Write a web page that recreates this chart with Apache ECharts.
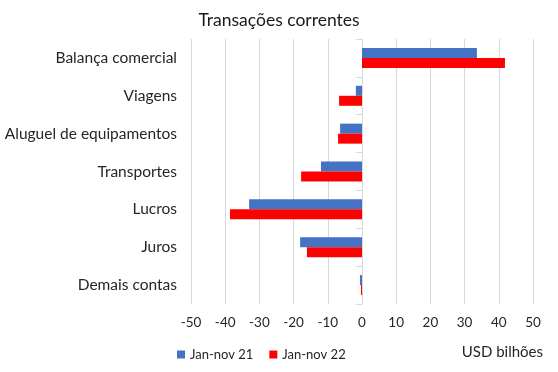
<!DOCTYPE html>
<html><head><meta charset="utf-8">
<script src="https://cdn.jsdelivr.net/npm/echarts@6/dist/echarts.min.js"></script>
<style>html,body{margin:0;padding:0;background:#fff}#c{width:558px;height:372px}</style>
</head><body><div id="c"></div>
<script>
const categories = ['Balança comercial','Viagens','Aluguel de equipamentos','Transportes','Lucros','Juros','Demais contas'];
const jan21 = [33.6, -1.8, -6.4, -12.0, -33.0, -18.1, -0.6];
const jan22 = [41.8, -6.7, -7.0, -17.8, -38.6, -16.1, -0.3];
const seriesNames = ['Jan-nov 21','Jan-nov 22'];
const xTicks = {min: -50, max: 50, interval: 10};

const F = 'Lato, "Noto Sans", sans-serif';
const chart = echarts.init(document.getElementById('c'));
chart.setOption({
  animation: false,
  title: {text: 'Transações correntes', left: 'center', top: 6,
    textStyle: {fontFamily: F, fontSize: 17.5, fontWeight: 'normal', color: '#1a1a1a'}},
  legend: {left: 172, top: 343, itemWidth: 8, itemHeight: 8, itemGap: 16, icon: 'rect',
    textStyle: {fontFamily: F, fontSize: 13, color: '#262626'}, data: seriesNames},
  graphic: [{type: 'text', right: 15, top: 345,
    style: {text: 'USD bilhões', font: '15px ' + F, fill: '#262626'}}],
  grid: {left: 191, right: 25, top: 39, bottom: 68},
  xAxis: {type: 'value', min: xTicks.min, max: xTicks.max, interval: xTicks.interval,
    axisLine: {show: false}, axisTick: {show: false},
    axisLabel: {fontFamily: F, fontSize: 13.5, color: '#262626', margin: 12},
    splitLine: {lineStyle: {color: '#d9d9d9', width: 1}}},
  yAxis: [
    {type: 'category', data: categories, inverse: true, position: 'left',
     axisLine: {show: false, onZero: false}, axisTick: {show: false},
     axisLabel: {fontFamily: F, fontSize: 15.5, color: '#262626', margin: 14}},
    {type: 'category', data: categories, inverse: true, position: 'left',
     axisLine: {show: true, onZero: true, lineStyle: {color: '#d9d9d9'}},
     axisTick: {show: true, length: 6, lineStyle: {color: '#d9d9d9'}},
     axisLabel: {show: false}}
  ],
  series: [
    {name: seriesNames[0], type: 'bar', data: jan21, barWidth: 10, barGap: '0%',
     itemStyle: {color: '#4472C4'}},
    {name: seriesNames[1], type: 'bar', data: jan22, barWidth: 10, barGap: '0%',
     itemStyle: {color: '#FF0000'}}
  ]
});
</script></body></html>
